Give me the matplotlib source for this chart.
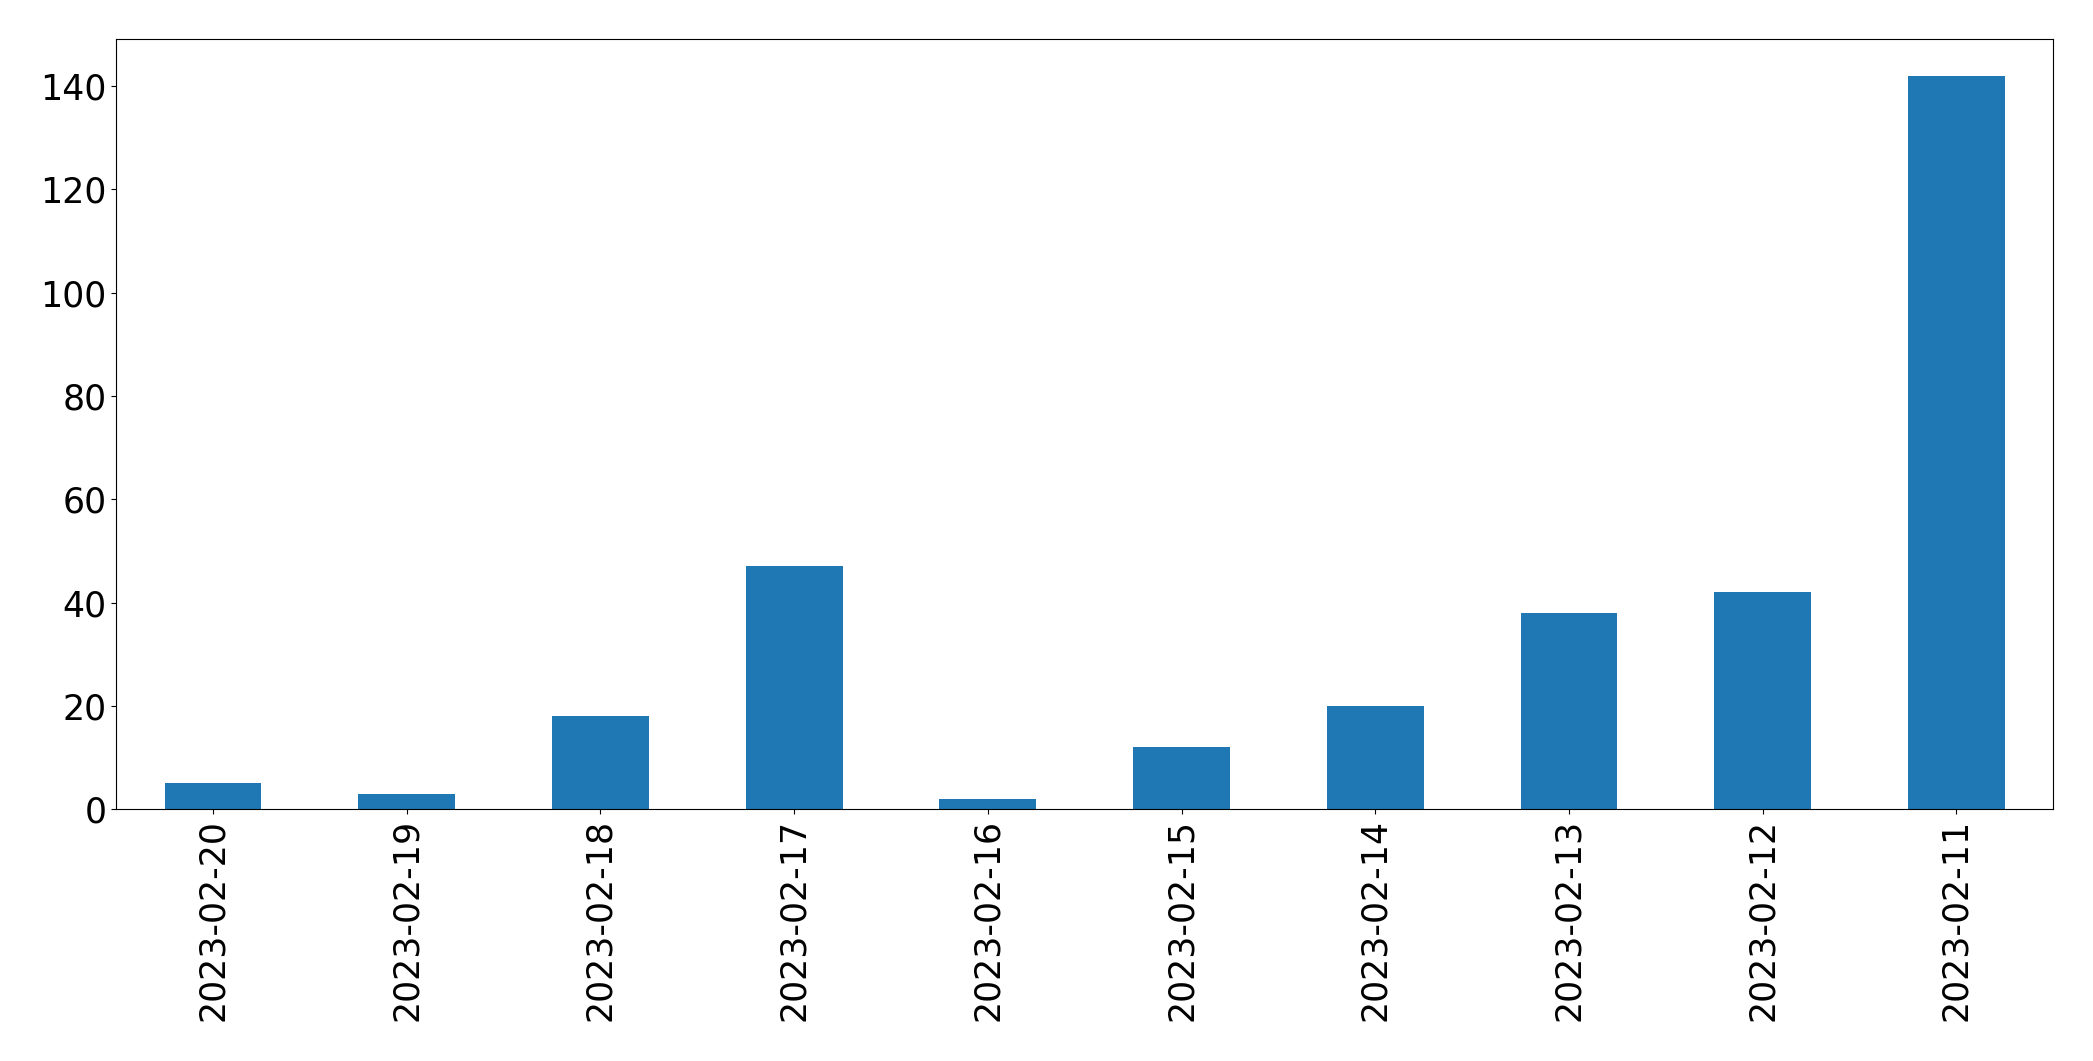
import matplotlib

matplotlib.use("Agg")
import matplotlib.pyplot as plt
import pandas as pd

dates = [
    "2023-02-20",
    "2023-02-19",
    "2023-02-18",
    "2023-02-17",
    "2023-02-16",
    "2023-02-15",
    "2023-02-14",
    "2023-02-13",
    "2023-02-12",
    "2023-02-11",
]
counts = [5, 3, 18, 47, 2, 12, 20, 38, 42, 142]

s = pd.Series(counts, index=dates)

fig, ax = plt.subplots(figsize=(20.93, 10.61), dpi=100)
s.plot.bar(ax=ax, color="#1f77b4", fontsize=25)
fig.subplots_adjust(left=0.0555, right=0.981, top=0.963, bottom=0.2375)
fig.savefig("out.png", dpi=100, facecolor="white")
